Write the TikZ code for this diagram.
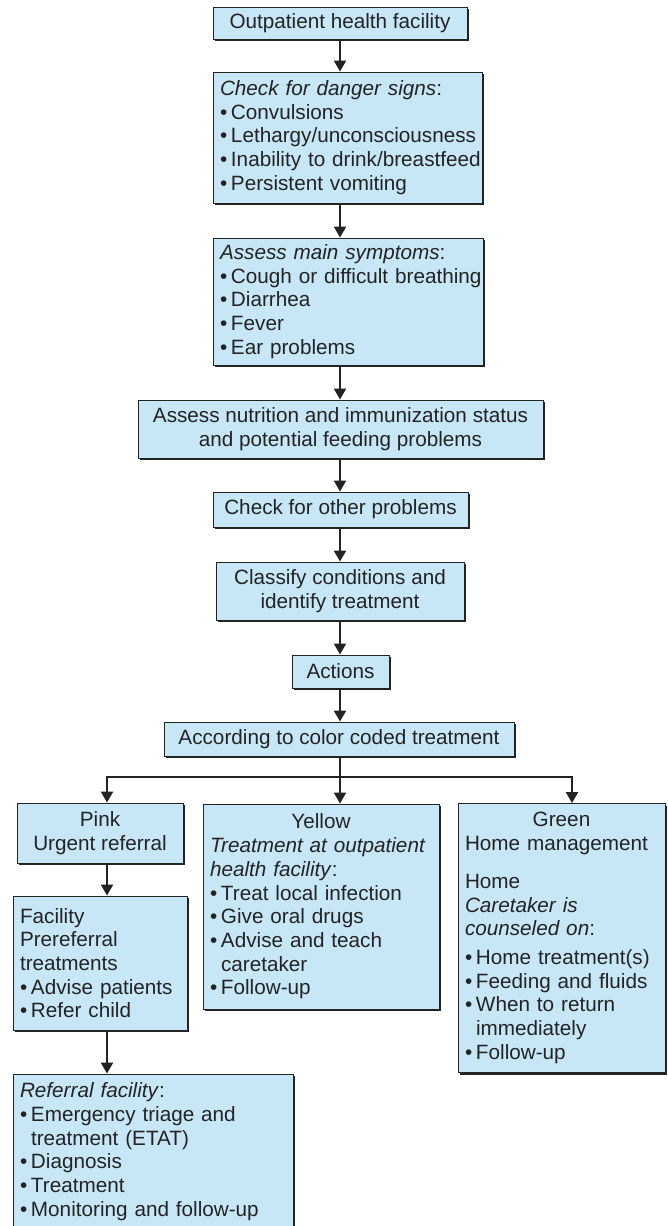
\documentclass[tikz,border=0pt]{standalone}
\usepackage{fontspec}
\setmainfont{Liberation Sans}
\usetikzlibrary{arrows.meta,shadows}
\definecolor{boxblue}{RGB}{199,231,247}
\definecolor{ink}{RGB}{35,35,35}
\newcommand{\bxl}[1]{\mbox{#1}}
\newcommand{\bxb}[1]{\mbox{\makebox[11pt][l]{•}#1}}
\newcommand{\bxc}[1]{\mbox{\hspace{11pt}#1}}
\tikzset{
  box/.style={draw=ink, line width=0.9pt, fill=boxblue, text=ink, inner sep=0pt,
    font=\fontsize{20.7}{23.7}\selectfont,
    drop shadow={shadow xshift=2.4pt, shadow yshift=-2.4pt, fill=ink, opacity=1}},
  cbox/.style={box, align=center},
  lbox/.style={box, align=left},
  arr/.style={draw=ink, line width=2.2pt, -{Triangle[width=12pt,length=11pt]}},
}
\begin{document}
\begin{tikzpicture}[x=1pt, y=-1pt]
\path[fill=white] (0,0) rectangle (668,1226);
\useasboundingbox (0,0) rectangle (668,1226);

\coordinate (ax) at (340,0);
\coordinate (lx) at (107,0);
\coordinate (rx) at (572,0);
\coordinate (hy) at (0,777);

\node[box, minimum width=254pt, minimum height=32pt] (B1) at (340,23) {Outpatient health facility};

\node[lbox, minimum width=269pt, minimum height=131pt, text width=255pt] (B2) at (347.5,137.5)
 {\bxl{\textit{Check for danger signs}:}\\ \bxb{Convulsions}\\ \bxb{Lethargy/unconsciousness}\\ \bxb{Inability to drink/breastfeed}\\ \bxb{Persistent vomiting}};

\node[lbox, minimum width=270pt, minimum height=127pt, text width=256pt] (B3) at (348,301.5)
 {\bxl{\textit{Assess main symptoms}:}\\ \bxb{Cough or difficult breathing}\\ \bxb{Diarrhea}\\ \bxb{Fever}\\ \bxb{Ear problems}};

\node[cbox, minimum width=405pt, minimum height=58pt] (B4) at (340.5,429)
 {Assess nutrition and immunization status\\and potential feeding problems};

\node[box, minimum width=255pt, minimum height=35pt] (B5) at (340.5,509.5) {Check for other problems};

\node[cbox, minimum width=248pt, minimum height=58pt] (B6) at (340,591)
 {Classify conditions and\\identify treatment};

\node[box, minimum width=97pt, minimum height=33pt] (B7) at (340.5,671.5) {Actions};

\node[box, minimum width=350pt, minimum height=34pt] (B8) at (339,739) {According to color coded treatment};

\node[cbox, minimum width=166pt, minimum height=60pt] (P) at (100,833) {Pink\\Urgent referral};

\node[lbox, minimum width=174pt, minimum height=134pt, text width=160pt] (F) at (100,963)
 {\bxl{Facility}\\ \bxl{Prereferral}\\ \bxl{treatments}\\ \bxb{Advise patients}\\ \bxb{Refer child}};

\node[lbox, minimum width=280pt, minimum height=155pt, text width=266pt] (R) at (153,1151.5)
 {\bxl{\textit{Referral facility}:}\\ \bxb{Emergency triage and}\\ \bxc{treatment (ETAT)}\\ \bxb{Diagnosis}\\ \bxb{Treatment}\\ \bxb{Monitoring and follow-up}};

\node[lbox, minimum width=236pt, minimum height=205pt, text width=222pt] (Y) at (321,906.5)
 {\makebox[222pt][c]{Yellow}\\ \bxl{\textit{Treatment at outpatient}}\\ \bxl{\textit{health facility}:}\\ \bxb{Treat local infection}\\ \bxb{Give oral drugs}\\ \bxb{Advise and teach}\\ \bxc{caretaker}\\ \bxb{Follow-up}};

\node[lbox, minimum width=207pt, minimum height=269pt, text width=193pt] (G) at (561.5,938)
 {\makebox[193pt][c]{Green}\\ \bxl{Home management}\\[14.3pt] \bxl{Home}\\ \bxl{\textit{Caretaker is}}\\ \bxl{\textit{counseled on}:}\\[5pt] \bxb{Home treatment(s)}\\ \bxb{Feeding and fluids}\\ \bxb{When to return}\\ \bxc{immediately}\\ \bxb{Follow-up}};

\draw[arr] (B1.south) -- (ax |- B2.north);
\draw[arr] (ax |- B2.south) -- (ax |- B3.north);
\draw[arr] (ax |- B3.south) -- (ax |- B4.north);
\draw[arr] (ax |- B4.south) -- (ax |- B5.north);
\draw[arr] (ax |- B5.south) -- (ax |- B6.north);
\draw[arr] (ax |- B6.south) -- (ax |- B7.north);
\draw[arr] (ax |- B7.south) -- (ax |- B8.north);
\draw[arr] (ax |- B8.south) -- (ax |- Y.north);
\draw[arr] (ax |- hy) -| (lx |- P.north);
\draw[arr] (ax |- hy) -| (rx |- G.north);
\draw[arr] (lx |- P.south) -- (lx |- F.north);
\draw[arr] (lx |- F.south) -- (lx |- R.north);
\end{tikzpicture}
\end{document}
